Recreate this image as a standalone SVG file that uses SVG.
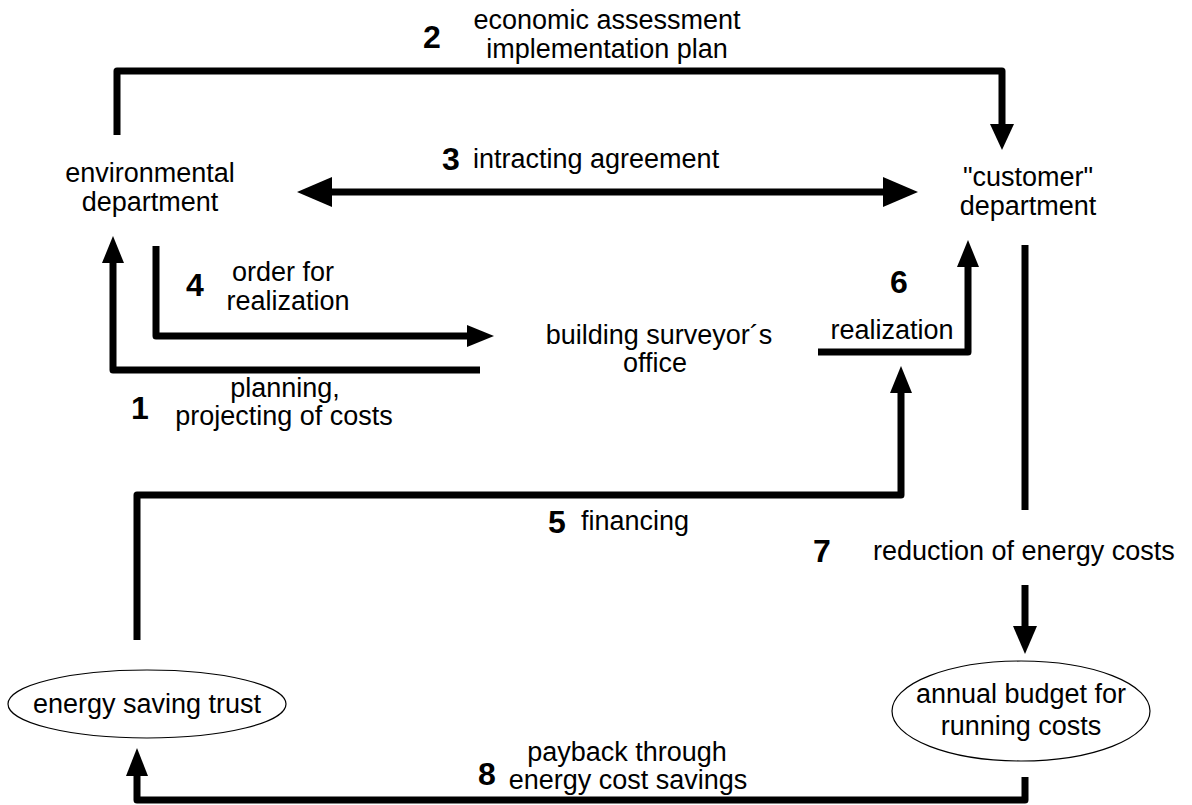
<svg xmlns="http://www.w3.org/2000/svg" width="1192" height="805" viewBox="0 0 1192 805">
<style>
text{font-family:"Liberation Sans",Arial,Helvetica,sans-serif;font-size:27px;fill:#000}
.n{font-weight:bold;font-size:32px}
.m{text-anchor:middle}
.ln{fill:none;stroke:#000;stroke-width:7;stroke-linejoin:round;stroke-linecap:butt}
.hd{fill:#000;stroke:none}
.el{fill:#fff;stroke:#000;stroke-width:1.2}
</style>
<rect width="1192" height="805" fill="#fff"/>
<g id="connectors">
  <path class="ln" d="M117,135 V71 H1002 V126"/>
  <polygon class="hd" points="1002,150 990,124 1014,124"/>
  <path class="ln" d="M328,192 H888"/>
  <polygon class="hd" points="297,192 332,177 332,207"/>
  <polygon class="hd" points="918,192 883,177 883,207"/>
  <path class="ln" d="M480,370 H113 V260"/>
  <polygon class="hd" points="113,236 102,263 124,263"/>
  <path class="ln" d="M156,246 V336 H470"/>
  <polygon class="hd" points="494,336 467,325 467,347"/>
  <path class="ln" d="M818,352 H968 V264"/>
  <polygon class="hd" points="968,240 957,267 979,267"/>
  <path class="ln" d="M137,640 V495 H901 V390"/>
  <polygon class="hd" points="901,366 890,393 912,393"/>
  <path class="ln" d="M1025,245 V510"/>
  <path class="ln" d="M1025,585 V630"/>
  <polygon class="hd" points="1025,654 1013,626 1037,626"/>
  <path class="ln" d="M1025,777 V800 H137 V772"/>
  <polygon class="hd" points="137,748 126,776 148,776"/>
</g>
<g id="labels">
  <text class="n m" x="432" y="48">2</text>
  <text class="m" x="607" y="29">economic assessment</text>
  <text class="m" x="607" y="58">implementation plan</text>
  <text class="n m" x="451" y="170">3</text>
  <text x="473" y="168">intracting agreement</text>
  <text class="n m" x="195" y="296">4</text>
  <text class="m" x="283" y="281">order for</text>
  <text class="m" x="288" y="310">realization</text>
  <text class="n m" x="140" y="419">1</text>
  <text class="m" x="285" y="397">planning,</text>
  <text class="m" x="284" y="425">projecting of costs</text>
  <text class="n m" x="899" y="293">6</text>
  <text class="m" x="892" y="339">realization</text>
  <text class="n m" x="557" y="533">5</text>
  <text x="581" y="530">financing</text>
  <text class="n m" x="822" y="562">7</text>
  <text x="873" y="560">reduction of energy costs</text>
  <text class="n m" x="487" y="785">8</text>
  <text class="m" x="627" y="761">payback through</text>
  <text class="m" x="628" y="789">energy cost savings</text>
</g>
<g id="environmental-department">
  <text class="m" x="150" y="182">environmental</text>
  <text class="m" x="150" y="211">department</text>
</g>
<g id="customer-department">
  <text class="m" x="1028" y="186">"customer"</text>
  <text class="m" x="1028" y="215">department</text>
</g>
<g id="building-surveyors-office">
  <text class="m" x="659" y="344">building surveyor´s</text>
  <text class="m" x="655" y="372">office</text>
</g>
<g id="energy-saving-trust">
  <ellipse class="el" cx="147" cy="704" rx="139" ry="34"/>
  <text class="m" x="147" y="713">energy saving trust</text>
</g>
<g id="annual-budget">
  <ellipse class="el" cx="1021" cy="711" rx="129" ry="50"/>
  <text class="m" x="1021" y="703">annual budget for</text>
  <text class="m" x="1021" y="735">running costs</text>
</g>
</svg>
